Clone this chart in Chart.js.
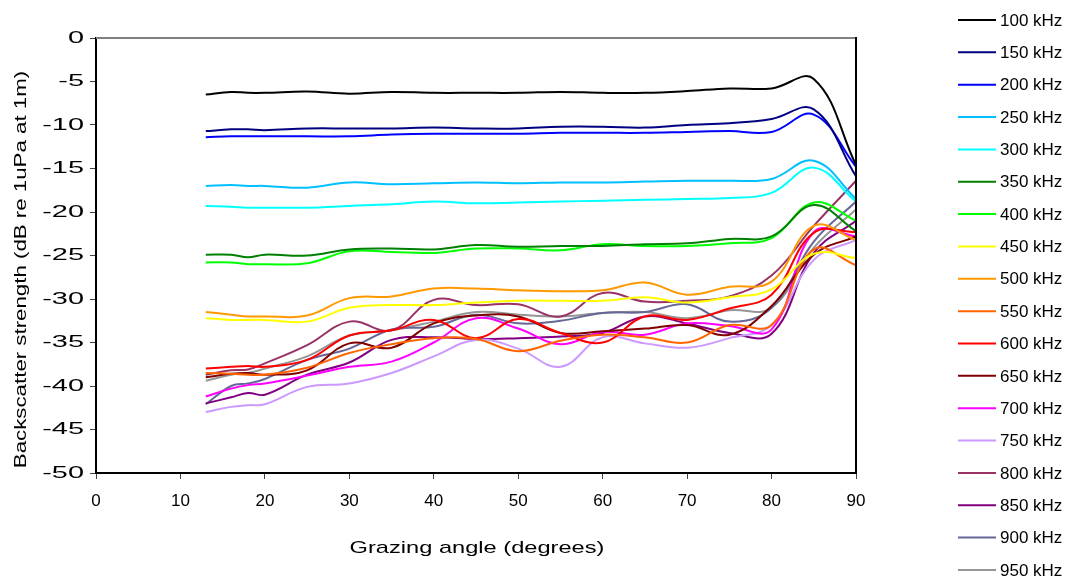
<!DOCTYPE html>
<html><head><meta charset="utf-8">
<script src="https://cdn.jsdelivr.net/npm/chart.js@4.4.1/dist/chart.umd.min.js"></script>
<style>html,body{margin:0;padding:0;background:#fff;} canvas{display:block;}</style>
</head><body>
<canvas id="c" width="1067" height="580"></canvas>
<script>
// Grazing angles (degrees)
const angles = [13, 16, 18, 20, 25, 30, 35, 40, 45, 50, 55, 60, 65, 70, 75, 80, 85, 90];
const seriesLabels = ['100 kHz','150 kHz','200 kHz','250 kHz','300 kHz','350 kHz','400 kHz','450 kHz','500 kHz','550 kHz','600 kHz','650 kHz','700 kHz','750 kHz','800 kHz','850 kHz','900 kHz','950 kHz'];
const xTitle = 'Grazing angle (degrees)';
const yTitle = 'Backscatter strength (dB re 1uPa at 1m)';

const s100 = [-6.5, -6.2, -6.3, -6.3, -6.15, -6.4, -6.2, -6.3, -6.3, -6.3, -6.2, -6.3, -6.3, -6.1, -5.8, -5.8, -4.7, -14.6];
const s150 = [-10.7, -10.5, -10.5, -10.6, -10.4, -10.4, -10.4, -10.3, -10.4, -10.4, -10.2, -10.2, -10.3, -10.0, -9.8, -9.3, -8.2, -15.9];
const s200 = [-11.4, -11.3, -11.3, -11.3, -11.3, -11.3, -11.1, -11.0, -11.0, -11.0, -10.9, -10.9, -10.9, -10.8, -10.7, -10.8, -8.8, -14.8];
const s250 = [-17.0, -16.9, -17.0, -17.0, -17.2, -16.6, -16.8, -16.7, -16.6, -16.7, -16.6, -16.6, -16.5, -16.4, -16.4, -16.2, -14.1, -18.5];
const s300 = [-19.3, -19.4, -19.5, -19.5, -19.5, -19.3, -19.1, -18.8, -19.0, -18.9, -18.8, -18.7, -18.6, -18.5, -18.4, -17.8, -14.9, -18.8];
const s350 = [-24.9, -24.9, -25.2, -24.9, -25.0, -24.3, -24.2, -24.3, -23.8, -24.0, -23.9, -23.9, -23.7, -23.6, -23.1, -22.8, -19.2, -22.2];
const s400 = [-25.8, -25.8, -26.0, -26.0, -25.9, -24.5, -24.6, -24.7, -24.2, -24.2, -24.4, -23.7, -23.9, -23.9, -23.6, -23.0, -18.9, -21.0];
const s450 = [-32.2, -32.4, -32.4, -32.4, -32.6, -31.0, -30.7, -30.7, -30.4, -30.2, -30.2, -30.2, -29.8, -30.4, -29.8, -28.9, -24.8, -25.3];
const s500 = [-31.5, -31.8, -32.0, -32.0, -31.9, -29.9, -29.7, -28.8, -28.8, -29.0, -29.1, -29.0, -28.1, -29.5, -28.6, -28.0, -21.6, -23.2];
const s550 = [-38.5, -38.6, -38.7, -38.7, -37.9, -36.2, -35.2, -34.5, -34.6, -36.0, -34.8, -34.1, -34.4, -35.0, -33.0, -33.0, -24.3, -26.1];
const s600 = [-38.0, -37.8, -37.7, -37.8, -37.0, -34.2, -33.6, -32.4, -34.5, -32.3, -33.9, -35.0, -32.0, -32.4, -31.1, -29.5, -22.4, -22.3];
const s650 = [-39.0, -38.6, -38.5, -38.7, -38.2, -35.1, -35.6, -32.8, -31.9, -32.0, -33.9, -33.7, -33.4, -33.0, -34.1, -30.8, -24.9, -22.8];
const s700 = [-41.2, -40.3, -39.9, -39.7, -38.8, -37.8, -37.2, -35.0, -32.2, -33.4, -35.2, -33.8, -34.1, -32.8, -33.1, -33.5, -22.3, -22.8];
const s750 = [-43.0, -42.4, -42.2, -42.1, -40.1, -39.7, -38.5, -36.6, -34.7, -35.7, -37.8, -34.4, -35.1, -35.6, -34.5, -33.0, -25.5, -23.2];
const s800 = [-38.7, -38.2, -38.1, -37.4, -35.3, -32.6, -33.6, -30.1, -30.7, -30.6, -32.0, -29.3, -30.3, -30.2, -29.7, -27.3, -21.6, -16.4];
const s850 = [-42.0, -41.3, -40.8, -41.0, -38.7, -37.3, -34.7, -34.4, -34.6, -34.5, -34.3, -33.9, -32.0, -32.8, -33.9, -34.0, -24.7, -21.0];
const s900 = [-42.1, -40.0, -39.7, -39.2, -37.0, -35.7, -33.5, -33.2, -31.8, -32.8, -32.5, -31.6, -31.5, -30.6, -32.6, -31.0, -23.4, -18.8];
const s950 = [-39.4, -38.7, -38.5, -38.0, -36.6, -34.2, -33.6, -32.6, -31.5, -31.8, -32.0, -31.6, -31.5, -32.2, -31.3, -31.0, -24.1, -19.7];

const seriesValues = [s100, s150, s200, s250, s300, s350, s400, s450, s500, s550, s600, s650, s700, s750, s800, s850, s900, s950];
const seriesColors = ['#000000','#000080','#0000FF','#00C0FF','#00FFFF','#008000','#00FF00','#FFFF00','#FF9900','#FF6600','#FF0000','#800000','#FF00FF','#CC99FF','#993366','#800080','#666699','#969696'];

const FONT = '"Liberation Sans", Arial, sans-serif';
const TEXT_FONT = '17px ' + FONT;

const datasets = seriesValues.map((vals, i) => ({
  label: seriesLabels[i],
  data: angles.map((a, j) => ({x: a, y: vals[j]})),
  borderColor: seriesColors[i],
  backgroundColor: seriesColors[i],
  borderWidth: 2,
  pointRadius: 0,
  tension: 0.4,
  fill: false
}));

function stretchedText(ctx, text, x, y, sx, rot, align) {
  ctx.save();
  ctx.translate(x, y);
  if (rot) ctx.rotate(rot);
  ctx.scale(sx, 1);
  ctx.textAlign = align;
  ctx.textBaseline = 'middle';
  ctx.fillText(text, 0, 0);
  ctx.restore();
}

const extras = {
  id: 'extras',
  afterDraw(chart) {
    const {ctx, chartArea: {left, right, top, bottom}} = chart;
    ctx.save();
    ctx.lineWidth = 2;
    ctx.strokeStyle = '#808080';
    ctx.beginPath(); ctx.moveTo(left, top); ctx.lineTo(right, top); ctx.stroke();
    ctx.strokeStyle = '#000';
    ctx.beginPath(); ctx.moveTo(right, top - 1); ctx.lineTo(right, bottom + 1); ctx.stroke();
    ctx.fillStyle = '#000';
    ctx.font = TEXT_FONT;
    const ys = chart.scales.y;
    ys.ticks.forEach(t => {
      stretchedText(ctx, String(t.label), left - 12, ys.getPixelForValue(t.value), 1.7, 0, 'right');
    });
    stretchedText(ctx, yTitle, 21, (top + bottom) / 2 + 14, 1.31, -Math.PI / 2, 'center');
    stretchedText(ctx, xTitle, (left + right) / 2 + 1, 548, 1.39, 0, 'center');
    chart.data.datasets.forEach((ds, i) => {
      const y = 20 + i * 32.35;
      ctx.strokeStyle = ds.borderColor;
      ctx.lineWidth = 2;
      ctx.beginPath(); ctx.moveTo(958, y); ctx.lineTo(996, y); ctx.stroke();
      ctx.fillStyle = '#000';
      ctx.textAlign = 'left';
      ctx.textBaseline = 'middle';
      ctx.fillText(ds.label, 1000, y + 1);
    });
    ctx.restore();
  }
};

new Chart(document.getElementById('c'), {
  type: 'line',
  data: {datasets},
  plugins: [extras],
  options: {
    responsive: false,
    animation: false,
    devicePixelRatio: 1,
    layout: {padding: {left: 0, right: 211, top: 38, bottom: 0}},
    plugins: {legend: {display: false}, tooltip: {enabled: false}},
    scales: {
      x: {
        type: 'linear', min: 0, max: 90,
        ticks: {stepSize: 10, color: '#000', font: {family: FONT, size: 17}, padding: 12},
        grid: {drawOnChartArea: false, drawTicks: true, tickLength: 6, color: '#444'},
        border: {display: true, color: '#000', width: 2},
        afterFit(s) { s.height = 107; }
      },
      y: {
        type: 'linear', min: -50, max: 0,
        ticks: {stepSize: 5, color: 'rgba(0,0,0,0)', font: {family: FONT, size: 17}, padding: 6},
        grid: {drawOnChartArea: false, drawTicks: true, tickLength: 6, color: '#444'},
        border: {display: true, color: '#000', width: 2},
        afterFit(s) { s.width = 96; }
      }
    }
  }
});
</script>
</body></html>
